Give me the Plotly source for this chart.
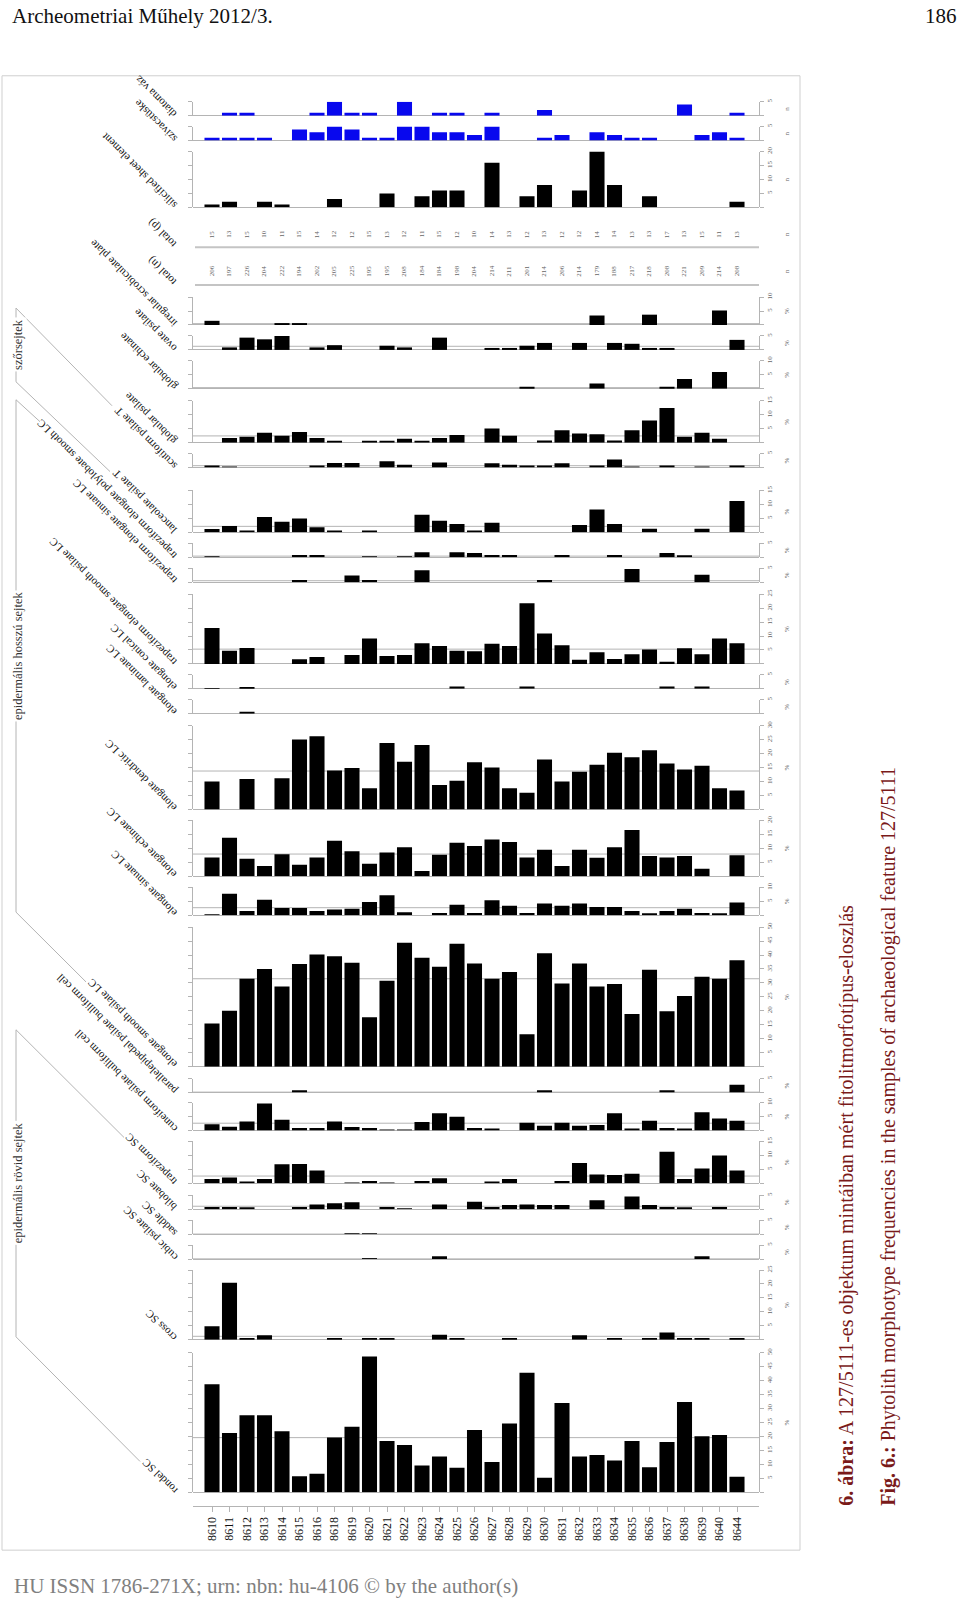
import plotly.graph_objects as go

# ---------------- data ----------------
samples = ['8610','8611','8612','8613','8614','8615','8616','8618','8619','8620','8621',
           '8622','8623','8624','8625','8626','8627','8628','8629','8630','8631','8632',
           '8633','8634','8635','8636','8637','8638','8639','8640','8644']

total_p = [15,13,15,10,11,15,14,12,12,15,13,12,11,15,12,10,14,13,12,13,12,12,14,14,13,13,17,13,15,11,13]
total_n = [206,197,226,204,222,194,202,205,225,195,195,208,184,184,198,204,214,211,201,214,206,214,179,188,217,218,208,221,209,214,208]

diatoma = [0,1,1,0,0,0,1,5,1,1,0,5,0,1,1,0,1,0,0,2,0,0,0,0,0,0,0,4,0,0,1]
szivacs = [1,1,1,1,0,4,3,5,4,1,1,5,5,3,3,2,5,0,0,1,2,0,3,2,1,1,0,0,2,3,1]
silicified = [1,2,0,2,1,0,0,3,0,0,5,0,4,6,6,0,16,0,4,8,0,6,20,8,0,4,0,0,0,0,2]
irregular = [1.5,0,0,0,0.5,0.5,0,0,0,0,0,0,0,0,0,0,0,0,0,0,0,0,3.4,0,0,3.7,0,0,0,5.2,0]
ovate = [0,0.9,4.4,3.8,5,0,0.9,1.7,0,0,1.5,0.9,0,4.4,0,0,0.5,0.5,1.5,2.5,0,2.5,0,2.5,2.2,0.5,0.5,0,0,0,3.6]
glob_echinate = [0,0,0,0,0,0,0,0,0,0,0,0,0,0,0,0,0,0,0.7,0,0,0,1.9,0,0,0,0.7,3.5,0,6,0]
glob_psilate = [0,1.7,2.1,3.5,2.5,3.8,1.7,0.4,0,0.4,0.4,1.4,0.7,1.7,2.7,0,5.1,2.5,0,0.8,4.4,3.3,3,0.8,4.4,7.9,12.4,2.1,3.5,1.4,0]
scutiform = [0.7,0.3,0,0,0,0,0.7,1.6,1.6,0,2.3,1,0,1.8,0,0,1.5,1,0.4,0.7,1.5,0,0.7,2.9,0.3,0,0.7,0,0.3,0,0.7]
lanceolate = [1.2,2.3,0.6,5.5,3.8,5,1.8,0.5,0,0.7,0,0,6.3,4.2,3,0.7,3.4,0,0,0,0,2.6,8.2,3,0,1.3,0,0,1.3,0,11.2]
trap_polylobate = [0.3,0,0,0,0,0.8,0.8,0,0,0.3,0,0.3,1.8,0,1.8,1.5,0.8,0.8,0,0,0.8,0,0,0.8,0,0,1.5,0.5,0,0,0]
trap_sinuate = [0,0,0,0,0,0.8,0,0,2.4,0.8,0,0,4.3,0,0,0,0,0,0,0.8,0,0,0,0,4.7,0,0,0,2.7,0,0]
trap_smooth = [12.9,4.7,5.7,0,0,1.7,2.5,0,3.2,9.1,2.8,3.2,7.4,6.4,4.7,4.5,7.2,6.4,21.7,10.9,6.7,1.5,4.2,1.8,3.5,5.2,0.8,5.6,3.5,9.1,7.4]
conical = [0.3,0,0.5,0,0,0,0,0,0,0,0,0,0,0,0.8,0,0,0,0.8,0,0,0,0,0,0,0,0.8,0,0.8,0,0]
laminate = [0,0,0.5,0,0,0,0,0,0,0,0,0,0,0,0,0,0,0,0,0,0,0,0,0,0,0,0,0,0,0,0]
dendritic = [10,0,10.9,0,11.2,25.1,26.2,14,14.9,7.6,23.8,17.1,23.1,8.8,10.3,16.9,15,7.6,6,17.9,10,13.5,16,20.3,18.7,21.2,16.5,14.3,15.7,7.6,6.8]
echinate = [6.7,13.8,6.3,3.7,7.9,4.1,6.7,12.7,9,4.5,8.5,10.4,1.9,7.7,12,10.8,13.2,12.3,6.7,9.5,3.7,9.5,6.6,10.4,16.6,7.3,6.7,7.3,2.7,0,7.5]
el_sinuate = [0.3,7.7,1.5,5.5,2.6,2.6,1.5,2,2.3,4.7,7.1,1,0,0.8,3.7,0.8,5.3,3.4,0.8,4.2,3.4,4.2,2.9,2.9,1.5,0.5,1.5,2.3,0.8,0.5,4.5]
smooth_psilate = [15.5,20,31.5,35,28.7,36.8,40.2,39.6,37.2,17.7,30.8,44.4,39,35.8,44,37,31.5,33.9,11.6,40.6,29.8,37,28.7,29.6,18.9,34.7,19.9,25.3,32.2,31.5,38.1]
parallelepipedal = [0,0,0,0,0,0.8,0,0,0,0,0,0,0,0,0,0,0,0,0,0.8,0,0,0,0,0,0,0.8,0,0,0,2.8]
cuneiform = [2.2,1.3,3.2,9.7,3.8,0.9,0.9,3.2,1.2,0.9,0.3,0.3,3,6.2,4.9,0.9,0.6,0,2.8,1.7,2.8,1.7,2,6.2,0.6,3.5,0.9,0.6,6.5,4.3,3.5]
trap_sc = [1.5,2.1,0.6,1.5,6.8,6.9,4.6,0,0.3,0.8,0.3,0,0.8,1.8,0,0,0.6,1.5,0,0,0.8,7.3,3.2,3,3.4,0,11.3,1.5,5.3,10,4.6]
bilobate = [0.8,0.8,0.5,0,0,0.8,1.7,2.1,2.5,0,0.8,0.3,0,1.7,0,2.7,0.8,1.5,1.7,1.5,1.5,0,3.2,0,4.6,1.5,0.8,0.5,0,0.8,0]
saddle = [0,0,0,0,0,0,0,0,0.3,0.3,0,0,0,0,0,0,0,0,0,0,0,0,0,0,0,0,0,0,0,0,0]
cubic = [0,0,0,0,0,0,0,0,0,0.3,0,0,0,1,0,0,0,0,0,0,0,0,0,0,0,0,0,0,1,0,0]
cross = [4.9,20.4,0.6,1.6,0,0,0,0.6,0,0.3,0.3,0,0,1.8,0.6,0,0,0.6,0,0,0,1.6,0,0.6,0,0.6,2.6,0.6,0.6,0,0.6]
rondel = [38.7,21.3,27.6,27.6,21.9,5.8,6.7,19.6,23.5,48.7,18.4,17,9.6,12.8,8.8,22.3,10.9,24.7,42.8,5.2,32,12.8,13.4,11.4,18.4,9,18,32.4,20.1,20.5,5.6]

# (label, values, unit, axis max)
panels = [
    ('diatoma váz', diatoma, 'n', 5),
    ('szivacstüske', szivacs, 'n', 5),
    ('silicified sheet element', silicified, 'n', 20),
    ('irregular scrobiculate plate', irregular, '%', 10),
    ('ovate psilate', ovate, '%', 5),
    ('globular echinate', glob_echinate, '%', 10),
    ('globular psilate', glob_psilate, '%', 15),
    ('scutiform psilate T', scutiform, '%', 5),
    ('lanceolate psilate T', lanceolate, '%', 15),
    ('trapeziform elongate polylobate smooth LC', trap_polylobate, '%', 5),
    ('trapeziform elongate sinuate LC', trap_sinuate, '%', 5),
    ('trapeziform elongate smooth psilate LC', trap_smooth, '%', 25),
    ('elongate conical LC', conical, '%', 5),
    ('elongate laminate LC', laminate, '%', 5),
    ('elongate dendritic LC', dendritic, '%', 30),
    ('elongate echinate LC', echinate, '%', 20),
    ('elongate sinuate LC', el_sinuate, '%', 10),
    ('elongate smooth psilate LC', smooth_psilate, '%', 50),
    ('parallelepipedal psilate bulliform cell', parallelepipedal, '%', 5),
    ('cuneiform psilate bulliform cell', cuneiform, '%', 10),
    ('trapeziform SC', trap_sc, '%', 15),
    ('bilobate SC', bilobate, '%', 5),
    ('saddle SC', saddle, '%', 5),
    ('cubic psilate SC', cubic, '%', 5),
    ('cross SC', cross, '%', 25),
    ('rondel SC', rondel, '%', 50),
]

# ---------------- layout (pixels) ----------------
W, H = 960, 1599
PXU = 2.8                      # pixels per unit on every value axis
panel_base = [111, 136, 203, 321, 346, 385, 439, 464, 529, 554, 579, 661, 686, 711,
              807, 874, 913, 1065, 1091, 1129, 1182, 1208, 1233, 1258, 1339, 1492]
BLUE_PANELS = {'diatoma váz', 'szivacstüske'}
X_LEFT, X_RIGHT = 193, 759
X0, DX = 212, 17.5
SERIF = 'Liberation Serif'
GRAY = '#b4b4b4'

def py(px):
    return (H - px) / H

def pxx(px):
    return px / W

xr = [(X_LEFT - X0) / DX, (X_RIGHT - X0) / DX]
idx = list(range(len(samples)))

fig = go.Figure()
lay = dict(width=W, height=H, margin=dict(l=0, r=0, t=0, b=0),
           paper_bgcolor='white', plot_bgcolor='white', showlegend=False,
           bargap=0.14, font=dict(family=SERIF))
lay['xaxis'] = dict(domain=[pxx(X_LEFT), pxx(X_RIGHT)], range=xr, anchor='free',
                    position=py(1506), tickmode='array', tickvals=idx, ticktext=samples,
                    tickangle=-90, ticks='outside', ticklen=5, tickcolor=GRAY,
                    showline=True, linecolor=GRAY, linewidth=1, showgrid=False,
                    zeroline=False, fixedrange=True,
                    tickfont=dict(family=SERIF, size=12, color='#111'))

annotations = []
shapes = []

def label(x, y, text, angle=0, size=11, color='#111', xa='center', ya='middle', **kw):
    d = dict(x=x, y=y, xref='paper', yref='paper', xanchor=xa, yanchor=ya, text=text,
             textangle=angle, showarrow=False, font=dict(family=SERIF, size=size, color=color))
    d.update(kw)
    annotations.append(d)

for k, (name, vals, unit, vmax) in enumerate(panels):
    base = panel_base[k]
    top = base - PXU * vmax
    yname = 'y' if k == 0 else f'y{k+1}'
    axname = 'yaxis' if k == 0 else f'yaxis{k+1}'
    color = '#0808ee' if name in BLUE_PANELS else '#000000'
    fig.add_trace(go.Bar(x=idx, y=vals, xaxis='x', yaxis=yname,
                         marker=dict(color=color, line=dict(width=0)), width=0.86,
                         hoverinfo='skip'))
    tv = list(range(0, vmax + 1, 5))
    lay[axname] = dict(domain=[py(base), py(top)], range=[0, vmax], anchor='x',
                       side='right', showline=True, linecolor=GRAY, linewidth=1,
                       mirror='ticks', ticks='outside', ticklen=4, tickcolor=GRAY,
                       tickmode='array', tickvals=tv, ticktext=[''] + [str(v) for v in tv[1:]],
                       tickangle=-90, tickfont=dict(family=SERIF, size=7, color='#666'),
                       showgrid=False, zeroline=True, zerolinecolor=GRAY, zerolinewidth=1,
                       fixedrange=True)
    if unit == '%':
        mean = sum(vals) / len(vals)
        shapes.append(dict(type='line', xref='x domain', yref=yname, x0=0, x1=1,
                           y0=mean, y1=mean, line=dict(color=GRAY, width=1), layer='below'))
    label(pxx(182), py(base + 7), name, angle=-135, xa='right', ya='bottom')
    label(pxx(787), py((base + top) / 2), unit, angle=-90, size=7, color='#666')

# totals rows
for name, vals, ytext, yline in [('total (p)', total_p, 230, 243),
                                 ('total (n)', total_n, 267, 281)]:
    for i, v in enumerate(vals):
        annotations.append(dict(x=i, xref='x', y=py(ytext), yref='paper', text=str(v),
                                xanchor='center', yanchor='middle',
                                textangle=-90, showarrow=False,
                                font=dict(family=SERIF, size=7, color='#666')))
    shapes.append(dict(type='line', xref='paper', yref='paper', x0=pxx(195), x1=pxx(759),
                       y0=py(yline), y1=py(yline), line=dict(color='#c4c4c4', width=2)))
    label(pxx(182), py(yline + 6), name, angle=-135, xa='right', ya='bottom')
    label(pxx(787), py(ytext), 'n', angle=-90, size=7, color='#666')

# group brackets
groups = [
    ('szőrsejtek', 304, 378, (112, 402), (110, 468)),
    ('epidermális hosszú sejtek', 396, 910, (40, 418), (86, 980)),
    ('epidermális rövid sejtek', 1028, 1336, (124, 1136), (140, 1461)),
]
for text, ytop, ybot, end_top, end_bot in groups:
    shapes.append(dict(type='line', xref='paper', yref='paper', x0=pxx(16), x1=pxx(16),
                       y0=py(ytop), y1=py(ybot), line=dict(color=GRAY, width=1)))
    shapes.append(dict(type='line', xref='paper', yref='paper', x0=pxx(16), x1=pxx(end_top[0]),
                       y0=py(ytop), y1=py(end_top[1]), line=dict(color=GRAY, width=1)))
    shapes.append(dict(type='line', xref='paper', yref='paper', x0=pxx(16), x1=pxx(end_bot[0]),
                       y0=py(ybot), y1=py(end_bot[1]), line=dict(color=GRAY, width=1)))
    label(pxx(18), py((ytop + ybot) / 2), text, angle=-90, size=12.5, color='#333',
          bgcolor='white')

# frame
shapes.append(dict(type='rect', xref='paper', yref='paper', x0=pxx(2), x1=pxx(800),
                   y0=py(1550), y1=py(71), line=dict(color='#cfcfcf', width=1)))

# page header / footer / captions
label(pxx(10), py(11), 'Archeometriai Műhely 2012/3.', size=21, xa='left')
label(pxx(959), py(11), '186', size=21, xa='right')
label(pxx(12), py(1586), 'HU ISSN 1786-271X; urn: nbn: hu-4106 © by the author(s)',
      size=21, color='#808080', xa='left')
CAP = '#7a1a1a'
label(pxx(847), py(1508),
      '<b>6. ábra:</b> A 127/5111-es objektum mintáiban mért fitolitmorfotípus-eloszlás',
      angle=-90, size=20, color=CAP, ya='bottom')
label(pxx(889), py(1508),
      '<b>Fig. 6.:</b> Phytolith morphotype frequencies in the samples of archaeological feature 127/5111',
      angle=-90, size=20, color=CAP, ya='bottom')

lay['annotations'] = annotations
lay['shapes'] = shapes
fig.update_layout(**lay)
fig.write_html('out.html')
